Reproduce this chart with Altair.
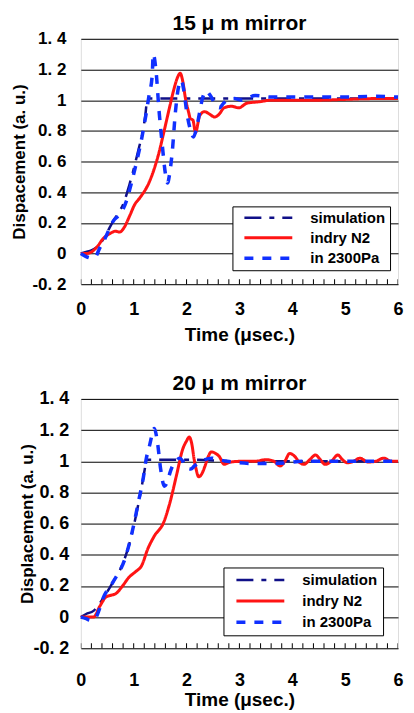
import altair as alt
import pandas as pd

FONT = "Liberation Sans"
SERIES = ["simulation", "indry N2", "in 2300Pa"]
COLORS = ["#101088", "#ff1414", "#1030ff"]
DASHES = [[17, 8, 5, 8], [1, 0], [9, 9]]
WIDTHS = [2.5, 3.5, 4.5]

Y_TICKS = [-0.2, 0, 0.2, 0.4, 0.6, 0.8, 1.0, 1.2, 1.4]
Y_LABELS = ["-0. 2", "0", "0. 2", "0. 4", "0. 6", "0. 8", "1", "1. 2", "1. 4"]
X_TICKS = [0, 1, 2, 3, 4, 5, 6]
X_MINOR = [round(i * 0.2, 1) for i in range(31)]

# ---- 15 um mirror ----
t15_sim = [0, 0.1, 0.2, 0.3, 0.4, 0.5, 0.61, 0.7, 0.8, 0.92, 1.0, 1.05, 1.1, 1.17, 1.22, 1.26, 1.5, 2.0, 3.0, 4.0, 5.0, 6.0]
v15_sim = [0, 0.01, 0.02, 0.04, 0.08, 0.14, 0.21, 0.26, 0.32, 0.45, 0.55, 0.62, 0.69, 0.79, 0.9, 1.01, 1.01, 1.01, 1.01, 1.01, 1.01, 1.01]

t15_n2 = [0, 0.1, 0.2, 0.3, 0.43, 0.55, 0.65, 0.74, 0.82, 0.93, 1.02, 1.11, 1.3, 1.48, 1.57, 1.69, 1.76, 1.82, 1.88, 1.93, 1.98, 2.04, 2.07, 2.12, 2.17, 2.25, 2.34, 2.43, 2.53, 2.62, 2.71, 2.85, 2.99, 3.14, 3.39, 3.6, 4.0, 4.5, 5.0, 5.5, 6.0]
v15_n2 = [0, 0.0, 0.01, 0.04, 0.10, 0.13, 0.145, 0.14, 0.17, 0.25, 0.32, 0.36, 0.47, 0.66, 0.79, 0.97, 1.07, 1.14, 1.175, 1.12, 1.01, 0.92, 0.88, 0.87, 0.79, 0.9, 0.925, 0.91, 0.89, 0.91, 0.95, 0.96, 0.95, 0.98, 0.99, 1.0, 1.0, 1.0, 1.005, 1.01, 1.01]

t15_pa = [0, 0.1, 0.2, 0.28, 0.35, 0.46, 0.61, 0.77, 0.86, 0.95, 1.05, 1.14, 1.23, 1.29, 1.35, 1.37, 1.42, 1.48, 1.54, 1.6, 1.64, 1.68, 1.73, 1.79, 1.84, 1.9, 1.95, 2.0, 2.07, 2.13, 2.19, 2.25, 2.3, 2.37, 2.45, 2.55, 2.62, 2.7, 2.77, 2.9, 3.05, 3.3, 3.6, 4.0, 4.5, 5.0, 5.5, 6.0]
v15_pa = [0, -0.02, -0.03, -0.02, 0.03, 0.10, 0.21, 0.27, 0.34, 0.45, 0.59, 0.73, 0.90, 1.03, 1.16, 1.30, 1.2, 0.93, 0.71, 0.52, 0.46, 0.52, 0.665, 0.925, 1.07, 1.13, 1.06, 0.93, 0.81, 0.76, 0.82, 0.925, 1.01, 1.06, 1.03, 0.97, 0.95, 0.98, 1.0, 1.01, 1.0, 1.03, 1.02, 1.02, 1.02, 1.02, 1.025, 1.02]

# ---- 20 um mirror ----
t20_sim = [0, 0.1, 0.24, 0.42, 0.6, 0.79, 0.91, 1.03, 1.12, 1.21, 1.24, 1.5, 2.0, 3.0, 4.0, 5.0, 6.0]
v20_sim = [0, 0.02, 0.04, 0.12, 0.22, 0.34, 0.46, 0.63, 0.78, 0.95, 1.01, 1.01, 1.01, 1.0, 1.0, 1.0, 1.0]

t20_n2 = [0, 0.12, 0.24, 0.36, 0.48, 0.57, 0.66, 0.79, 0.91, 1.03, 1.15, 1.27, 1.39, 1.57, 1.69, 1.81, 1.93, 2.0, 2.05, 2.1, 2.14, 2.18, 2.23, 2.29, 2.35, 2.41, 2.47, 2.55, 2.62, 2.71, 2.83, 3.07, 3.3, 3.5, 3.65, 3.77, 3.86, 3.95, 4.05, 4.13, 4.22, 4.33, 4.44, 4.53, 4.62, 4.74, 4.86, 4.95, 5.04, 5.16, 5.28, 5.43, 5.58, 5.73, 5.87, 6.0]
v20_n2 = [0, 0.0, 0.0, 0.07, 0.13, 0.14, 0.15, 0.20, 0.255, 0.29, 0.33, 0.44, 0.52, 0.61, 0.74, 0.91, 1.08, 1.13, 1.155, 1.11, 1.02, 0.95, 0.90, 0.92, 0.97, 1.03, 1.06, 1.05, 1.03, 0.98, 0.995, 1.0, 1.0, 1.01, 1.0, 0.97, 1.0, 1.05, 1.03, 0.995, 0.98, 1.01, 1.04, 1.01, 0.98, 1.0, 1.04, 1.01, 0.99, 1.0, 1.02, 0.995, 1.0, 1.02, 1.0, 1.0]

t20_pa = [0, 0.1, 0.18, 0.27, 0.35, 0.42, 0.6, 0.85, 1.0, 1.09, 1.18, 1.24, 1.3, 1.39, 1.45, 1.51, 1.58, 1.64, 1.69, 1.75, 1.81, 1.87, 1.93, 1.99, 2.08, 2.15, 2.23, 2.35, 2.47, 2.6, 2.77, 3.0, 3.3, 3.6, 3.9, 4.2, 4.5, 5.0, 5.5, 6.0]
v20_pa = [0, -0.01, -0.02, -0.01, 0.05, 0.12, 0.22, 0.39, 0.59, 0.74, 0.89, 1.02, 1.10, 1.21, 1.12, 0.95, 0.84, 0.87, 0.93, 0.98, 1.005, 1.02, 1.0, 0.96, 0.95, 0.97, 0.99, 1.01, 1.02, 1.01, 1.0, 0.99, 0.985, 0.985, 0.99, 1.0, 1.0, 1.0, 1.0, 1.0]


def frame(ts, vs):
    rows = []
    for s, t, v in zip(SERIES, ts, vs):
        for i, (a, b) in enumerate(zip(t, v)):
            rows.append({"series": s, "t": a, "v": b, "i": i})
    return pd.DataFrame(rows)


df15 = frame([t15_sim, t15_n2, t15_pa], [v15_sim, v15_n2, v15_pa])
df20 = frame([t20_sim, t20_n2, t20_pa], [v20_sim, v20_n2, v20_pa])
df_minor = pd.DataFrame({"t": X_MINOR, "v": [Y_TICKS[0]] * len(X_MINOR)})

label_expr = "[" + ",".join("'%s'" % s for s in Y_LABELS) + "][round((datum.value + 0.2) * 5)]"
LEAD = "\u00a0" * 3


def panel(df, title, ytitle, w, h, lx, ly, yfs, ylab_pad, ytitle_pad, xlab_pad, xtitle_pad,
          title_off, leg_pad, leg_row):
    leg = alt.Legend(
        title=None, orient="none", legendX=lx, legendY=ly,
        symbolType="M0,0L8,0", symbolSize=144,
        labelFont=FONT, labelFontSize=15, labelFontWeight="bold", labelColor="black",
        labelOffset=58, strokeColor="black", fillColor="white",
        padding=leg_pad, rowPadding=leg_row, labelLimit=250,
    )
    x = alt.X("t:Q", scale=alt.Scale(domain=[0, 6], nice=False),
              axis=alt.Axis(values=X_TICKS, title="Time (μsec.)", grid=False, ticks=False, domain=False,
                            labelFont=FONT, labelFontSize=18, labelFontWeight="bold", labelColor="black",
                            labelPadding=xlab_pad, titleFont=FONT, titleFontSize=19,
                            titleFontWeight="bold", titleColor="black", titlePadding=xtitle_pad,
                            labelFlush=False))
    y = alt.Y("v:Q", scale=alt.Scale(domain=[-0.2, 1.4], nice=False, zero=False),
              axis=alt.Axis(values=Y_TICKS, labelExpr=label_expr, title=ytitle, grid=True,
                            gridColor="black", gridOpacity=1, gridWidth=1, ticks=False, domain=False,
                            labelFont=FONT, labelFontSize=yfs, labelFontWeight="bold", labelColor="black",
                            labelPadding=ylab_pad, titleFont=FONT, titleFontSize=17,
                            titleFontWeight="bold", titleColor="black", titlePadding=ytitle_pad))
    color = alt.Color("series:N", scale=alt.Scale(domain=SERIES, range=COLORS), legend=leg)
    dash = alt.StrokeDash("series:N", scale=alt.Scale(domain=SERIES, range=DASHES), legend=leg)
    sw = alt.StrokeWidth("series:N", scale=alt.Scale(domain=SERIES, range=WIDTHS), legend=leg)
    base = alt.Chart(df)
    layers = []
    for s in SERIES:
        layers.append(
            base.transform_filter(alt.datum.series == s)
            .mark_line(interpolate="monotone")
            .encode(x=x, y=y, color=color, strokeDash=dash, strokeWidth=sw, order="i:Q")
        )
    ticks = alt.Chart(df_minor).mark_tick(orient="vertical", size=10, thickness=1, color="black",
                                          clip=True, opacity=1).encode(x=x, y=y)
    return alt.layer(ticks, *layers).properties(
        width=w, height=h,
        title=alt.TitleParams(LEAD + title, font=FONT, fontSize=21, fontWeight="bold", color="black",
                              offset=title_off, frame="group"),
    )


top = panel(df15, "15 μ m mirror", "Dispacement (a. u.)", 318, 246, 152, 168, 17, 15, 3, 16, 7, -4, 4, 4)
bottom = panel(df20, "20 μ m mirror", "Displacement (a. u.)", 318, 250, 143, 169, 18, 12, -4, 23, 1, -4, 5, 5)

chart = alt.concat(top, bottom, columns=1, spacing=27, align="none").resolve_scale(
    color="independent", strokeDash="independent", strokeWidth="independent"
).resolve_legend(
    color="independent", strokeDash="independent", strokeWidth="independent"
).properties(
    padding={"left": 2, "top": 3, "right": 0, "bottom": 0}
).configure_view(stroke="black", strokeWidth=1.5).configure(background="white")

chart.save("out.html", embed_options={"renderer": "svg", "actions": False})
